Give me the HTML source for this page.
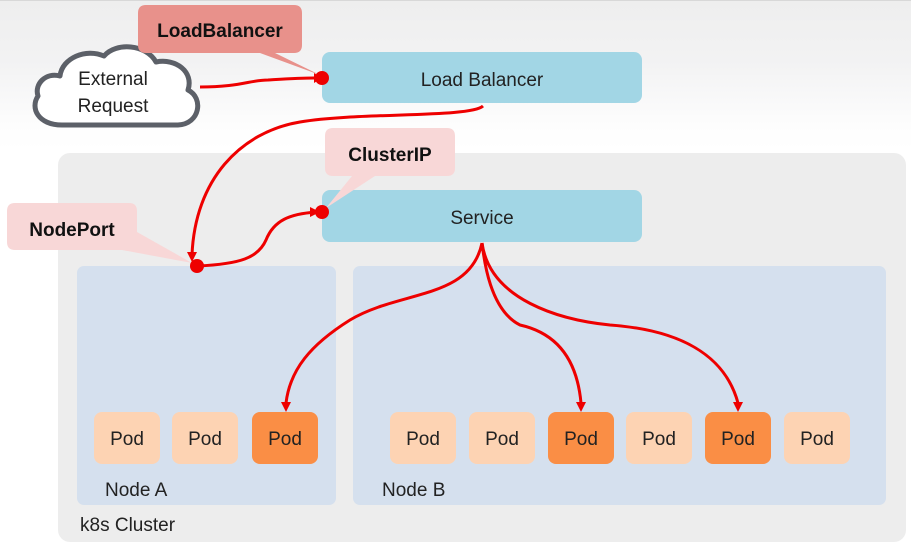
<!DOCTYPE html>
<html><head><meta charset="utf-8"><style>
html,body{margin:0;padding:0;}
body{width:911px;height:551px;overflow:hidden;background:linear-gradient(#eeeeee 0px,#f2f2f3 60px,#fdfdfd 125px,#ffffff 150px,#ffffff 551px);}
svg{display:block;font-family:"Liberation Sans","DejaVu Sans",sans-serif;}
</style></head><body>
<svg width="911" height="551" viewBox="0 0 911 551" xmlns="http://www.w3.org/2000/svg">
<line x1="0" y1="0.5" x2="911" y2="0.5" stroke="#d8d8d8"/>
<rect x="58" y="153" width="848" height="389" rx="12" fill="#ededed"/>
<rect x="77" y="266" width="259" height="239" rx="7" fill="#d5e0ee"/>
<rect x="353" y="266" width="533" height="239" rx="7" fill="#d5e0ee"/>
<rect x="322" y="52" width="320" height="51" rx="8" fill="#a2d6e5"/>
<text x="482" y="86" font-size="19" text-anchor="middle" fill="#222">Load Balancer</text>
<rect x="322" y="190" width="320" height="52" rx="8" fill="#a2d6e5"/>
<text x="482" y="224" font-size="19" text-anchor="middle" fill="#222">Service</text>
<g font-size="19" text-anchor="middle" fill="#222">
<rect x="94" y="412" width="66" height="52" rx="8" fill="#fdd3b3"/><text x="127" y="445">Pod</text>
<rect x="172" y="412" width="66" height="52" rx="8" fill="#fdd3b3"/><text x="205" y="445">Pod</text>
<rect x="252" y="412" width="66" height="52" rx="8" fill="#fa8e45"/><text x="285" y="445">Pod</text>
<rect x="390" y="412" width="66" height="52" rx="8" fill="#fdd3b3"/><text x="423" y="445">Pod</text>
<rect x="469" y="412" width="66" height="52" rx="8" fill="#fdd3b3"/><text x="502" y="445">Pod</text>
<rect x="548" y="412" width="66" height="52" rx="8" fill="#fa8e45"/><text x="581" y="445">Pod</text>
<rect x="626" y="412" width="66" height="52" rx="8" fill="#fdd3b3"/><text x="659" y="445">Pod</text>
<rect x="705" y="412" width="66" height="52" rx="8" fill="#fa8e45"/><text x="738" y="445">Pod</text>
<rect x="784" y="412" width="66" height="52" rx="8" fill="#fdd3b3"/><text x="817" y="445">Pod</text>
</g>
<g font-size="19" fill="#222">
<text x="105" y="496">Node A</text>
<text x="382" y="496">Node B</text>
<text x="80" y="531">k8s Cluster</text>
</g>
<path d="M62,125 C38,125 30,108 38,96 C34,84 46,72 60,76 C62,58 86,48 104,56 C116,42 146,44 156,62 C176,58 194,72 188,90 C204,98 200,124 178,125 Z" fill="#fff" stroke="#5c6068" stroke-width="5" stroke-linejoin="round"/>
<text x="113" y="85" font-size="19" text-anchor="middle" fill="#222">External</text>
<text x="113" y="112" font-size="19" text-anchor="middle" fill="#222">Request</text>
<path d="M146,5 H294 Q302,5 302,13 V45 Q302,53 294,53 H275 L320,75 L260,53 H146 Q138,53 138,45 V13 Q138,5 146,5 Z" fill="#e8918b"/>
<text x="220" y="37" font-size="19" font-weight="bold" text-anchor="middle" fill="#111">LoadBalancer</text>
<path d="M333,128 H447 Q455,128 455,136 V168 Q455,176 447,176 H375 L326,208 L352,176 H333 Q325,176 325,168 V136 Q325,128 333,128 Z" fill="#f8d7d7"/>
<text x="390" y="161" font-size="19" font-weight="bold" text-anchor="middle" fill="#111">ClusterIP</text>
<path d="M15,203 H129 Q137,203 137,211 V232 L192,263 L122,250 H15 Q7,250 7,242 V211 Q7,203 15,203 Z" fill="#f8d7d7"/>
<text x="72" y="236" font-size="19" font-weight="bold" text-anchor="middle" fill="#111">NodePort</text>
<g fill="none" stroke="#ee0000" stroke-width="3">
<path d="M200,87 C240,87 250,80 268,80 C285,79 300,78 314,78"/>
<path d="M483,106 C470,118 360,112 300,122 C240,132 195,180 192,255"/>
<path d="M198,266 C240,264 258,258 266,240 C274,220 290,214 316,212"/>
<path d="M482,243 C470,300 400,290 350,320 C310,345 290,370 286,403"/>
<path d="M482,243 C484,260 490,310 520,325 C565,335 578,370 581,403"/>
<path d="M482,243 C490,300 560,320 610,325 C680,330 725,355 738,403"/>
</g>
<g fill="#ee0000">
<polygon points="314,73 322,78 314,83"/>
<polygon points="187,252 197,252 192,262"/>
<polygon points="310,207 320,212 310,217"/>
<polygon points="281,402 291,402 286,412"/>
<polygon points="576,402 586,402 581,412"/>
<polygon points="733,402 743,402 738,412"/>
<circle cx="322" cy="78" r="7"/>
<circle cx="197" cy="266" r="7"/>
<circle cx="322" cy="212" r="7"/>
</g>
</svg>
</body></html>
